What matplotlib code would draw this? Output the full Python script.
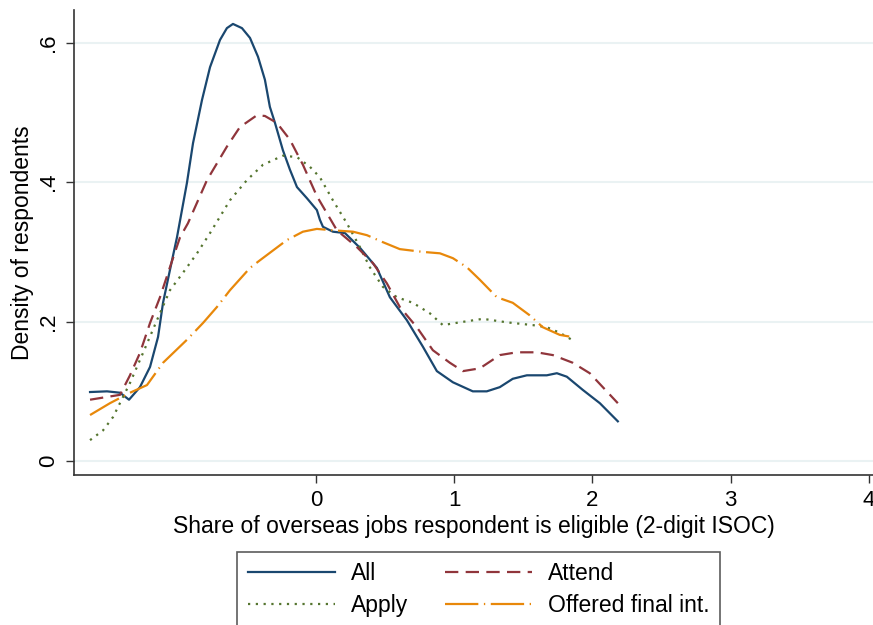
import matplotlib
matplotlib.use("Agg")
import matplotlib.pyplot as plt
from matplotlib.ticker import FixedLocator, FixedFormatter

plt.rcParams['font.family'] = ['Liberation Sans', 'DejaVu Sans']

# density estimates
all_x = [-1.634, -1.511, -1.417, -1.352, -1.273, -1.200, -1.142, -1.106, -1.056, -1.005,
         -0.933, -0.889, -0.824, -0.766, -0.694, -0.644, -0.600, -0.535, -0.477, -0.419,
         -0.369, -0.333, -0.296, -0.239, -0.188, -0.137, -0.065, 0.007, 0.029, 0.051,
         0.123, 0.210, 0.318, 0.441, 0.535, 0.658, 0.774, 0.875, 0.991, 1.135,
         1.236, 1.330, 1.424, 1.526, 1.670, 1.743, 1.815, 1.931, 2.054, 2.184]
all_y = [0.099, 0.100, 0.098, 0.088, 0.106, 0.135, 0.178, 0.227, 0.274, 0.321,
         0.399, 0.456, 0.518, 0.565, 0.604, 0.621, 0.627, 0.621, 0.607, 0.580,
         0.547, 0.508, 0.485, 0.446, 0.418, 0.393, 0.377, 0.360, 0.346, 0.336,
         0.329, 0.327, 0.306, 0.277, 0.235, 0.202, 0.164, 0.129, 0.113, 0.100,
         0.100, 0.106, 0.118, 0.123, 0.123, 0.126, 0.121, 0.102, 0.083, 0.057]

attend_x = [-1.634, -1.417, -1.345, -1.273, -1.200, -1.128, -1.056, -0.983, -0.926, -0.788,
            -0.644, -0.550, -0.427, -0.369, -0.282, -0.188, -0.094, 0.007, 0.152, 0.296,
            0.412, 0.513, 0.607, 0.730, 0.846, 0.969, 1.063, 1.186, 1.330, 1.453,
            1.598, 1.714, 1.858, 1.981, 2.184]
attend_y = [0.088, 0.095, 0.123, 0.155, 0.198, 0.235, 0.278, 0.321, 0.341, 0.403,
            0.451, 0.479, 0.496, 0.495, 0.485, 0.461, 0.425, 0.380, 0.331, 0.307,
            0.284, 0.255, 0.221, 0.192, 0.159, 0.141, 0.129, 0.133, 0.152, 0.156,
            0.156, 0.152, 0.141, 0.126, 0.083]

apply_x = [-1.634, -1.540, -1.468, -1.345, -1.251, -1.150, -1.056, -0.962, -0.860, -0.766,
           -0.622, -0.499, -0.383, -0.239, -0.137, -0.043, 0.029, 0.123, 0.224, 0.318,
           0.390, 0.484, 0.586, 0.701, 0.824, 0.918, 1.041, 1.208, 1.381, 1.569,
           1.670, 1.764, 1.851]
apply_y = [0.030, 0.044, 0.063, 0.112, 0.155, 0.202, 0.245, 0.270, 0.298, 0.327,
           0.374, 0.403, 0.425, 0.438, 0.436, 0.422, 0.407, 0.374, 0.341, 0.307,
           0.278, 0.250, 0.235, 0.227, 0.212, 0.195, 0.199, 0.204, 0.199, 0.195,
           0.192, 0.184, 0.174]

offer_x = [-1.634, -1.490, -1.345, -1.222, -1.106, -0.933, -0.817, -0.716, -0.622, -0.477,
           -0.405, -0.210, -0.094, 0.007, 0.123, 0.268, 0.369, 0.484, 0.607, 0.774,
           0.897, 0.991, 1.092, 1.186, 1.309, 1.424, 1.547, 1.641, 1.764, 1.851]
offer_y = [0.066, 0.083, 0.098, 0.109, 0.141, 0.174, 0.198, 0.221, 0.245, 0.277,
           0.288, 0.317, 0.329, 0.333, 0.331, 0.329, 0.324, 0.314, 0.304, 0.300,
           0.298, 0.291, 0.278, 0.260, 0.235, 0.227, 0.209, 0.192, 0.181, 0.178]

x_ticks = [0, 1, 2, 3, 4]
y_ticks = [0, 0.2, 0.4, 0.6]
y_tick_labels = ["0", ".2", ".4", ".6"]

fig = plt.figure(figsize=(8.73, 6.25), dpi=100)
ax = fig.add_axes([74/873, 1 - 475/625, 1 - 74/873, (475 - 10)/625])

ax.plot(all_x, all_y, color="#1a476f", lw=1.6, label="All")
ax.plot(apply_x, apply_y, color="#55752f", lw=1.6, ls=(0, (1, 2.5)), label="Apply")
ax.plot(attend_x, attend_y, color="#90353b", lw=1.6, ls=(0, (6, 3.3)), label="Attend")
ax.plot(offer_x, offer_y, color="#e8880a", lw=1.6, ls=(0, (15, 2.5, 0.6, 2.5)),
        label="Offered final int.")

ax.set_xlim(-1.75, 4.03)
ax.set_ylim(-0.02, 0.647)
for yv in y_ticks:
    ax.axhline(yv, color="#eaf2f3", lw=1.5, zorder=0)

ax.xaxis.set_major_locator(FixedLocator(x_ticks))
ax.yaxis.set_major_locator(FixedLocator(y_ticks))
ax.yaxis.set_major_formatter(FixedFormatter(y_tick_labels))
ax.tick_params(axis="both", direction="out", length=6, width=1, color="#333333",
               labelsize=16, pad=5)
ax.tick_params(axis="y", labelrotation=90)
for lab in ax.get_yticklabels():
    lab.set_va("center")

for s in ["top", "right"]:
    ax.spines[s].set_visible(False)
for s in ["left", "bottom"]:
    ax.spines[s].set_color("#333333")
    ax.spines[s].set_linewidth(1.2)

ax.set_xlabel("Share of overseas jobs respondent is eligible (2-digit ISOC)", fontsize=16.5, labelpad=3)
ax.set_ylabel("Density of respondents", fontsize=16.5, labelpad=3)

leg = fig.legend(loc="upper center", bbox_to_anchor=(0.548, 1 - 552/625), ncol=2,
                 fontsize=16.5, handlelength=3.8, handletextpad=0.7, columnspacing=1.6,
                 frameon=True, fancybox=False, edgecolor="#333333", borderaxespad=0,
                 labelspacing=0.4, borderpad=0.45)
leg.get_frame().set_linewidth(1.2)

fig.savefig("out.png", dpi=100, facecolor="white")
